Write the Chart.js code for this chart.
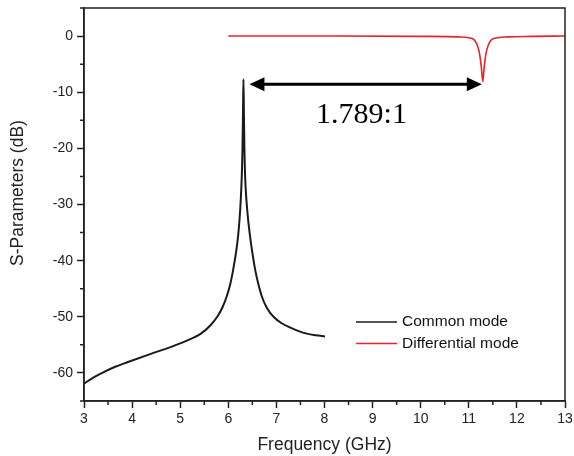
<!DOCTYPE html>
<html>
<head>
<meta charset="utf-8">
<script src="https://cdn.jsdelivr.net/npm/chart.js@4.4.1/dist/chart.umd.min.js"></script>
<style>
  html, body { margin: 0; padding: 0; background: #fff; }
  #wrap { width: 574px; height: 456px; position: relative; }
</style>
</head>
<body>
<div id="wrap"><canvas id="sparChart"></canvas></div>
<script>
// --- data ---
const commonFreq = [3.0, 3.2, 3.42, 3.65, 3.9, 4.39, 4.8, 5.15, 5.43, 5.63, 5.77, 5.88, 5.97, 6.04, 6.10, 6.17, 6.205, 6.235, 6.26, 6.28, 6.295, 6.305, 6.315,
                    6.325, 6.335, 6.35, 6.375, 6.41, 6.45, 6.49, 6.56, 6.62, 6.69, 6.80, 6.94, 7.10, 7.28, 7.45, 7.63, 7.82, 8.01];
const commonDb   = [-61.9, -60.8, -59.8, -58.9, -58.1, -56.6, -55.4, -54.2, -53.0, -51.5, -50.0, -48.3, -46.3, -44.2, -41.7, -38.0, -35.5, -32.5, -29.0, -25.0, -20.0, -14.0, -7.7,
                    -14.0, -20.0, -25.0, -29.0, -32.5, -35.5, -38.0, -41.7, -44.0, -46.2, -48.4, -50.0, -51.1, -51.9, -52.5, -53.0, -53.3, -53.5];

const diffFreq = [6.0, 8.0, 10.0, 10.8, 11.0, 11.1, 11.17, 11.22, 11.26, 11.29, 11.32, 11.36, 11.41, 11.48, 11.6, 11.8, 12.3, 13.0];
const diffDb   = [0, 0, -0.05, -0.15, -0.3, -0.6, -1.5, -3.0, -5.5, -8.1, -5.5, -3.0, -1.5, -0.6, -0.3, -0.15, -0.05, 0];

const seriesLabels = ['Common mode', 'Differential mode'];
const xTickLabels = [3, 4, 5, 6, 7, 8, 9, 10, 11, 12, 13];
const yTickLabels = [0, -10, -20, -30, -40, -50, -60];

// annotation: ratio arrow between the two resonances
const arrowFrom = 6.44;
const arrowTo = 11.27;
const arrowDb = -8.56;
const ratioText = '1.789:1';
const ratioFreq = 8.77;
const ratioDb = -15.4;

const toPoints = (xs, ys) => xs.map((x, i) => ({ x: x, y: ys[i] }));

// box, minor ticks, arrow, legend and y title
const extrasPlugin = {
    id: 'extras',
    afterDraw(chart) {
        const { ctx, chartArea: a, scales } = chart;
        const xs = scales.x, ys = scales.y;
        ctx.save();

        // frame
        ctx.strokeStyle = '#222';
        ctx.lineWidth = 1.5;
        ctx.strokeRect(a.left, a.top, a.right - a.left, a.bottom - a.top);

        // minor ticks
        ctx.beginPath();
        xs.ticks.forEach(t => {
            if (xTickLabels.indexOf(t.value) === -1) {
                const px = xs.getPixelForValue(t.value);
                ctx.moveTo(px, a.bottom);
                ctx.lineTo(px, a.bottom + 4);
            }
        });
        ys.ticks.forEach(t => {
            if (yTickLabels.indexOf(t.value) === -1) {
                const py = ys.getPixelForValue(t.value);
                ctx.moveTo(a.left, py);
                ctx.lineTo(a.left - 4, py);
            }
        });
        ctx.stroke();

        // double arrow
        const x1 = xs.getPixelForValue(arrowFrom);
        const x2 = xs.getPixelForValue(arrowTo);
        const y0 = ys.getPixelForValue(arrowDb);
        const head = 15, half = 7;
        ctx.strokeStyle = '#000';
        ctx.fillStyle = '#000';
        ctx.lineWidth = 3;
        ctx.beginPath();
        ctx.moveTo(x1 + head - 2, y0);
        ctx.lineTo(x2 - head + 2, y0);
        ctx.stroke();
        ctx.beginPath();
        ctx.moveTo(x1, y0);
        ctx.lineTo(x1 + head, y0 - half);
        ctx.lineTo(x1 + head, y0 + half);
        ctx.closePath();
        ctx.fill();
        ctx.beginPath();
        ctx.moveTo(x2, y0);
        ctx.lineTo(x2 - head, y0 - half);
        ctx.lineTo(x2 - head, y0 + half);
        ctx.closePath();
        ctx.fill();

        ctx.font = '30px "Liberation Serif", "Times New Roman", serif';
        ctx.textAlign = 'center';
        ctx.textBaseline = 'alphabetic';
        ctx.fillText(ratioText, xs.getPixelForValue(ratioFreq), ys.getPixelForValue(ratioDb));

        // legend, lower right
        const lx = 356, ly = 322, gap = 21.5;
        ctx.font = '15.5px "Liberation Sans", Arial, sans-serif';
        ctx.textAlign = 'left';
        ctx.textBaseline = 'middle';
        chart.data.datasets.forEach((ds, i) => {
            const yy = ly + i * gap;
            ctx.strokeStyle = ds.borderColor;
            ctx.lineWidth = 1.5;
            ctx.beginPath();
            ctx.moveTo(lx, yy);
            ctx.lineTo(lx + 41, yy);
            ctx.stroke();
            ctx.fillStyle = '#111';
            ctx.fillText(ds.label, lx + 46, yy);
        });

        // y axis title (sits a bit above the plot centre in the reference)
        ctx.translate(18, 193);
        ctx.rotate(-Math.PI / 2);
        ctx.font = '17.5px "Liberation Sans", Arial, sans-serif';
        ctx.textAlign = 'center';
        ctx.fillStyle = '#222';
        ctx.fillText('S-Parameters (dB)', 0, 0);

        ctx.restore();
    }
};

const axisFont = { family: '"Liberation Sans", Arial, sans-serif', size: 14 };
const titleFont = { family: '"Liberation Sans", Arial, sans-serif', size: 17.5 };

new Chart(document.getElementById('sparChart'), {
    type: 'scatter',
    data: {
        datasets: [
            {
                label: seriesLabels[0],
                data: toPoints(commonFreq, commonDb),
                showLine: true,
                borderColor: '#1a1a1a',
                borderWidth: 2,
                pointRadius: 0,
                cubicInterpolationMode: 'monotone'
            },
            {
                label: seriesLabels[1],
                data: toPoints(diffFreq, diffDb),
                showLine: true,
                borderColor: '#e8232b',
                borderWidth: 1.6,
                pointRadius: 0,
                cubicInterpolationMode: 'monotone'
            }
        ]
    },
    options: {
        responsive: true,
        maintainAspectRatio: false,
        animation: false,
        layout: { padding: { top: 8, right: 9, left: 0, bottom: 0 } },
        plugins: {
            legend: { display: false },
            tooltip: { enabled: false }
        },
        scales: {
            x: {
                type: 'linear',
                min: 3,
                max: 13,
                afterFit: s => { s.height = 55; s.paddingRight = 0; s.paddingLeft = 0; },
                border: { color: '#222', width: 1.5 },
                grid: {
                    drawOnChartArea: false,
                    tickLength: 7,
                    tickWidth: 1.5,
                    tickColor: c => (xTickLabels.indexOf(c.tick.value) === -1 ? 'rgba(0,0,0,0)' : '#222')
                },
                ticks: {
                    stepSize: 0.5,
                    autoSkip: false,
                    maxRotation: 0,
                    color: '#222',
                    font: axisFont,
                    padding: 3,
                    callback: v => (xTickLabels.indexOf(v) === -1 ? '' : String(v))
                },
                title: {
                    display: true,
                    text: 'Frequency (GHz)',
                    color: '#222',
                    font: titleFont,
                    padding: { top: 4, bottom: 0 }
                }
            },
            y: {
                min: -65,
                max: 5,
                afterFit: s => { s.width = 84; s.paddingTop = 0; s.paddingBottom = 0; },
                border: { color: '#222', width: 1.5 },
                grid: {
                    drawOnChartArea: false,
                    tickLength: 7,
                    tickWidth: 1.5,
                    tickColor: c => (yTickLabels.indexOf(c.tick.value) === -1 ? 'rgba(0,0,0,0)' : '#222')
                },
                ticks: {
                    stepSize: 5,
                    autoSkip: false,
                    color: '#222',
                    font: axisFont,
                    padding: 4,
                    callback: v => (yTickLabels.indexOf(v) === -1 ? '' : String(v))
                }
            }
        }
    },
    plugins: [extrasPlugin]
});
</script>
</body>
</html>
